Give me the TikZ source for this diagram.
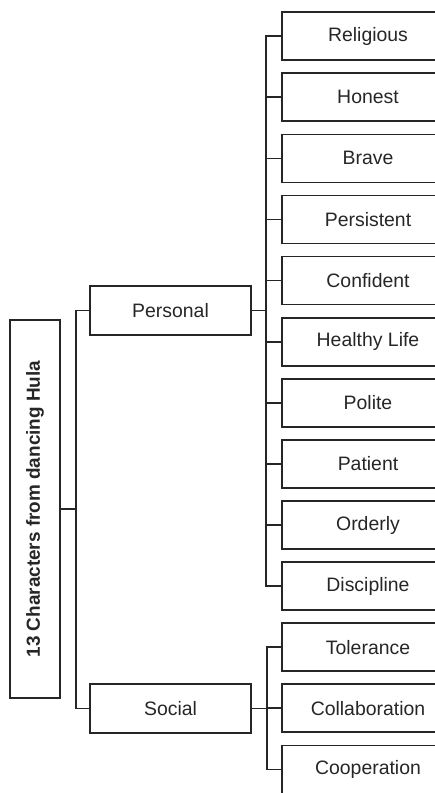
\documentclass[tikz,border=0pt]{standalone}
\usepackage{fontspec}
\setmainfont{Liberation Sans}
\begin{document}
\begin{tikzpicture}[x=1bp,y=-1bp,
  every node/.style={inner sep=0pt, outer sep=0pt},
  line/.style={line width=1.7bp, draw=black!85},
  leafbox/.style={line, minimum width=172bp, minimum height=48bp, font=\fontsize{19.5}{21}\selectfont, text=black!85},
  midbox/.style={line, minimum width=161bp, minimum height=49bp, font=\fontsize{19.5}{21}\selectfont, text=black!85},
  rootbox/.style={line, rotate=90, minimum width=378bp, minimum height=50bp, font=\bfseries\fontsize{19}{21}\selectfont, text=black!85}]
\useasboundingbox (0,0) rectangle (435,793);
\begin{scope}
\clip (0,0) rectangle (435,793);
\node[rootbox] (root) at (35,509) {13 Characters from dancing Hula};
\node[midbox] (personal) at (170.5,310.5) {Personal};
\node[midbox] (social) at (170.5,708.5) {Social};
\foreach \t [count=\i from 0] in {Religious,Honest,Brave,Persistent,Confident,Healthy Life,Polite,Patient,Orderly,Discipline,Tolerance,Collaboration,Cooperation}{
  \node[leafbox] (l\i) at (368,{36.2+61.1*\i}) {\t};
}
\coordinate (trunk) at (76,509);
\coordinate (pv) at (266,310.5);
\coordinate (sv) at (267,708.5);
% root to mid level
\draw[line] (root.south) -- (trunk);
\draw[line] (personal.west) -| (trunk) |- (social.west);
% personal branch
\draw[line] (personal.east) -- (pv);
\draw[line] (l0.west) -| (pv) |- (l9.west);
\foreach \i in {1,...,8}{ \draw[line] (l\i.west) -- (l\i.west -| pv); }
% social branch
\draw[line] (social.east) -- (sv);
\draw[line] (l10.west) -| (sv) |- (l12.west);
\draw[line] (l11.west) -- (l11.west -| sv);
\end{scope}
\end{tikzpicture}
\end{document}
